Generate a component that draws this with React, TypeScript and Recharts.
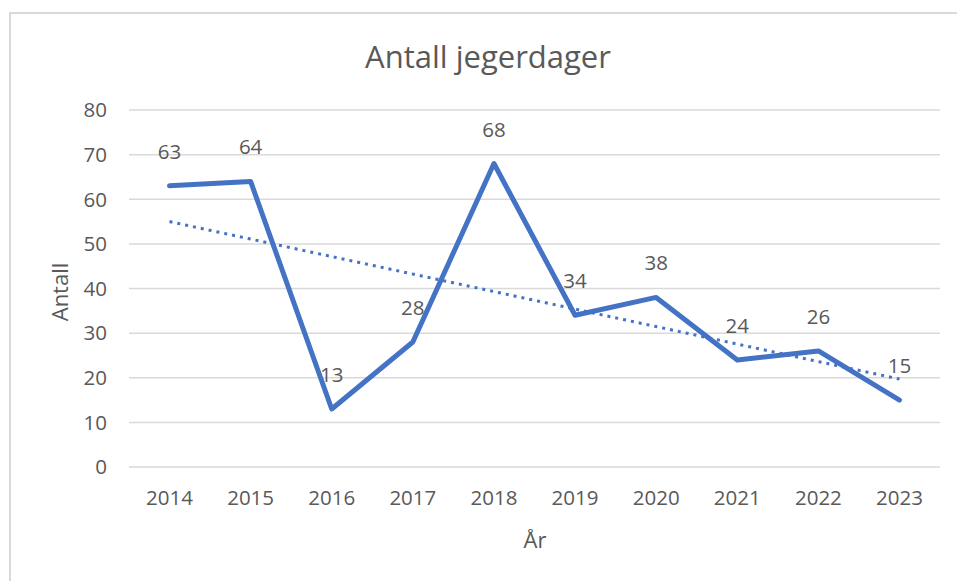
import { LineChart, Line, XAxis, YAxis, CartesianGrid, LabelList } from "recharts";

// values
const years = ["2014", "2015", "2016", "2017", "2018", "2019", "2020", "2021", "2022", "2023"];
const hunterDays = [63, 64, 13, 28, 68, 34, 38, 24, 26, 15];
// linear trendline, only its two end points
const trendLine = [55.0, null, null, null, null, null, null, null, null, 19.7];
const yTicks = [0, 10, 20, 30, 40, 50, 60, 70, 80];

const W = 957;
const H = 581;
const TEXT = "#595959";
const BLUE = "#4472C4";
const FONT = '"Open Sans", sans-serif';

const rows = years.map((year, i) => ({
  year,
  days: hunterDays[i],
  trend: trendLine[i],
}));

export default function App() {
  return (
    <div style={{ position: "relative", width: W, height: H, overflow: "hidden", fontFamily: FONT, background: "#fff" }}>
      <style>{`body{margin:0;overflow:hidden}`}</style>
      <div
        style={{
          position: "absolute",
          left: 9,
          top: 12,
          width: 1000,
          height: 700,
          border: "2px solid #d9d9d9",
          boxSizing: "border-box",
        }}
      />
      <LineChart
        width={W}
        height={H}
        data={rows}
        margin={{ top: 110, right: 17, bottom: 84, left: 0 }}
        style={{ position: "absolute", left: 0, top: 0 }}
      >
        <CartesianGrid vertical={false} stroke="#d9d9d9" strokeWidth={1.5} />
        <XAxis
          dataKey="year"
          height={30}
          axisLine={false}
          tickLine={false}
          tickSize={0}
          tickMargin={23}
          padding={{ left: 40.5, right: 40.5 }}
          tick={{ fill: TEXT, fontSize: 20.5, fontFamily: FONT }}
        />
        <YAxis
          width={129}
          domain={[0, 80]}
          ticks={yTicks}
          axisLine={false}
          tickLine={false}
          tickSize={0}
          tickMargin={22}
          tick={{ fill: TEXT, fontSize: 20.5, fontFamily: FONT }}
        />
        <Line
          dataKey="trend"
          connectNulls
          stroke={BLUE}
          strokeWidth={3}
          strokeDasharray="3 5"
          dot={false}
          isAnimationActive={false}
        />
        <Line
          dataKey="days"
          stroke={BLUE}
          strokeWidth={5}
          strokeLinejoin="round"
          strokeLinecap="round"
          dot={false}
          isAnimationActive={false}
        >
          <LabelList dataKey="days" position="top" offset={27} fill={TEXT} fontSize={20.5} fontFamily={FONT} />
        </Line>
      </LineChart>
      <svg width={W} height={H} style={{ position: "absolute", left: 0, top: 0, pointerEvents: "none" }}>
        <text x={488} y={68} textAnchor="middle" fill={TEXT} fontSize={31} fontFamily={FONT}>
          Antall jegerdager
        </text>
        <text
          x={0}
          y={0}
          transform="translate(68 292) rotate(-90)"
          textAnchor="middle"
          fill={TEXT}
          fontSize={22}
          fontFamily={FONT}
        >
          Antall
        </text>
        <text x={535} y={548} textAnchor="middle" fill={TEXT} fontSize={22} fontFamily={FONT}>
          År
        </text>
      </svg>
    </div>
  );
}
